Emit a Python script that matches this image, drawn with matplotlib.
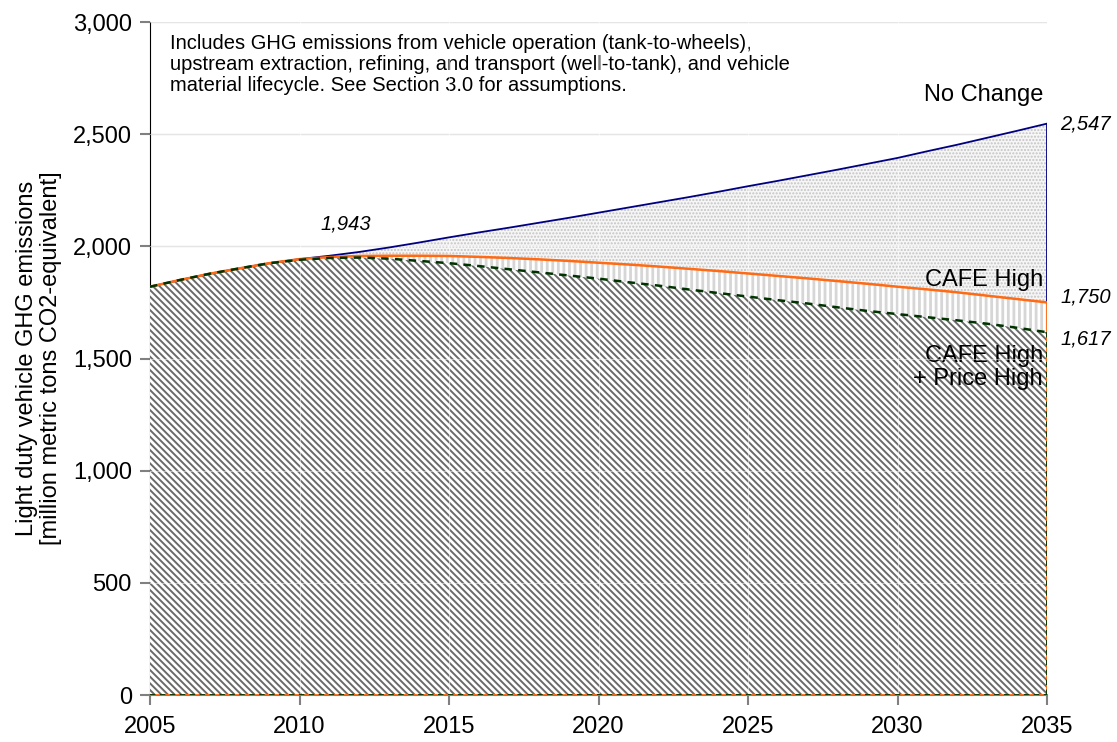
import matplotlib
matplotlib.use("Agg")
import matplotlib.pyplot as plt
import numpy as np

years = list(range(2005, 2036))
no_change = [1820, 1850, 1878, 1902, 1925, 1943, 1958, 1975, 1995, 2017, 2040,
             2062, 2083, 2105, 2127, 2150, 2173, 2196, 2219, 2243, 2268,
             2292, 2317, 2342, 2368, 2394, 2424, 2453, 2484, 2515, 2547]
cafe_high = [1820, 1850, 1878, 1902, 1925, 1943, 1952, 1957, 1958, 1958, 1957,
             1953, 1948, 1942, 1935, 1927, 1919, 1910, 1900, 1890, 1879,
             1868, 1857, 1845, 1833, 1820, 1808, 1795, 1780, 1765, 1750]
cafe_price = [1820, 1850, 1878, 1902, 1925, 1940, 1948, 1950, 1945, 1935, 1925,
              1912, 1898, 1884, 1870, 1856, 1840, 1825, 1808, 1792, 1776,
              1760, 1745, 1728, 1712, 1698, 1684, 1670, 1655, 1637, 1617]

yticks = [0, 500, 1000, 1500, 2000, 2500, 3000]
xticks = [2005, 2010, 2015, 2020, 2025, 2030, 2035]

plt.rcParams['font.family'] = ['Liberation Sans', 'DejaVu Sans']

fig = plt.figure(figsize=(11.17, 7.42), dpi=100)
ax = fig.add_axes([150/1117, 1-695/742, 897/1117, 673/742])

x = np.array(years)
for yv in yticks[1:]:
    ax.axhline(yv, color='#cccccc', lw=0.9, zorder=0)

plt.rcParams['hatch.linewidth'] = 1.0
ax.fill_between(x, 0, no_change, facecolor='#f6f6f6', edgecolor='#c4c4c4',
                hatch='.....', linewidth=0, zorder=1)
plt.rcParams['hatch.linewidth'] = 2.0
ax.fill_between(x, 0, cafe_high, facecolor='white', edgecolor='#d6d6d6',
                hatch='|||', linewidth=0, zorder=2)
plt.rcParams['hatch.linewidth'] = 1.4
ax.fill_between(x, 0, cafe_price, facecolor='white', edgecolor='#6a6a6a',
                hatch='\\\\\\\\\\', linewidth=0, zorder=3)

# faint gridlines over the fills
for xv in xticks[1:-1]:
    ax.axvline(xv, color='white', lw=0.8, alpha=0.5, zorder=4)
for yv in yticks[1:]:
    ax.plot([xticks[0], xticks[-1]], [yv, yv], color='white', lw=0.8, alpha=0.5, zorder=4)

ax.plot(x, no_change, color='#000080', lw=1.3, zorder=6)
ax.vlines(x[-1], cafe_high[-1], no_change[-1], color='#000080', lw=1.3, zorder=6)
ax.plot(x, cafe_high, color='#ff6a13', lw=1.8, zorder=7)
ax.vlines(x[-1], 0, cafe_high[-1], color='#ff6a13', lw=1.3, zorder=6)
ax.plot(x, cafe_price, color='#003300', lw=1.8, ls=(0, (3, 2.5)), zorder=8)
ax.vlines(x[-1], 0, cafe_price[-1], color='#003300', lw=1.3, ls=(0, (3, 2.5)), zorder=8)
ax.plot([x[0], x[-1]], [0, 0], color='#ff6a13', lw=1.3, zorder=7)
ax.plot([x[0], x[-1]], [0, 0], color='#003300', lw=1.3, ls=(0, (3, 2.5)), zorder=8)

ax.set_xlim(2005, 2035)
ax.set_ylim(0, 3000)
ax.set_xticks(xticks)
ax.set_yticks(yticks)
ax.set_yticklabels([f"{v:,}" for v in yticks])
ax.tick_params(axis='both', labelsize=17, color='#808080', length=7, width=1.5)
ax.tick_params(axis='x', pad=8)
ax.tick_params(axis='y', pad=6)
for s in ['top', 'right']:
    ax.spines[s].set_visible(False)
ax.spines['left'].set_color('black')
ax.spines['bottom'].set_color('#808080')
ax.spines['bottom'].set_linewidth(1.5)

ax.set_ylabel("Light duty vehicle GHG emissions\n[million metric tons CO2-equivalent]",
              fontsize=17, labelpad=8, linespacing=1.1)

ax.text(2005.67, 2945, "Includes GHG emissions from vehicle operation (tank-to-wheels),\n"
        "upstream extraction, refining, and transport (well-to-tank), and vehicle\n"
        "material lifecycle. See Section 3.0 for assumptions.",
        fontsize=14.5, va='top', ha='left', linespacing=1.12)

ax.text(2034.87, 2675, "No Change", fontsize=17, ha='right', va='center')
ax.text(2034.87, 1850, "CAFE High", fontsize=17, ha='right', va='center')
ax.text(2034.87, 1460, "CAFE High\n+ Price High", fontsize=17, ha='right', va='center',
        linespacing=1.05, multialignment='right')

ax.text(2035.45, no_change[-1], f"{no_change[-1]:,}", fontsize=14.5, style='italic', ha='left', va='center')
ax.text(2035.45, cafe_high[-1] + 24, f"{cafe_high[-1]:,}", fontsize=14.5, style='italic', ha='left', va='center')
ax.text(2035.45, cafe_price[-1] - 30, f"{cafe_price[-1]:,}", fontsize=14.5, style='italic', ha='left', va='center')
ax.text(2011.55, 2100, f"{no_change[5]:,}", fontsize=14.5, style='italic', ha='center', va='center')

fig.savefig("out.png", dpi=100)
